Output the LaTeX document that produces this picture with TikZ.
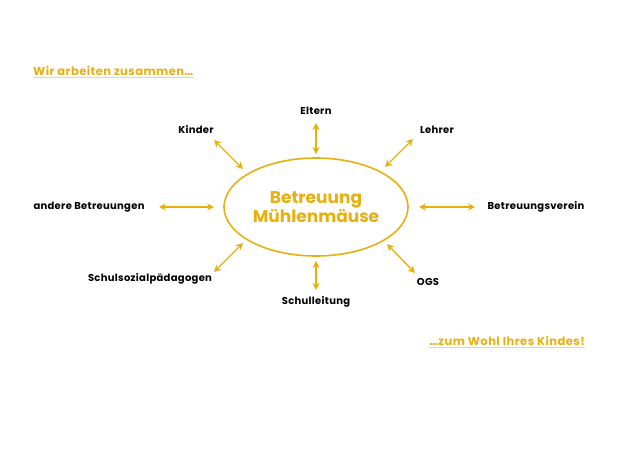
\documentclass[tikz,border=0pt]{standalone}
\usepackage{fontspec}
\setmainfont{Poppins}
\newfontfamily\spaced[LetterSpace=4]{Poppins}
\usetikzlibrary{arrows.meta}
\definecolor{gold}{HTML}{E8B00F}
\definecolor{goldlight}{HTML}{F3D583}
\tikzset{
  lbl/.style={font=\bfseries\fontsize{10}{12}\selectfont\addfontfeatures{LetterSpace=3}, text=black, inner sep=0pt},
  head/.style={font=\spaced\bfseries\fontsize{11.5}{13}\selectfont, text=gold, inner sep=0pt},
  conn/.style={draw=gold, line width=1.4pt, {Stealth[length=7pt,width=7pt]}-{Stealth[length=7pt,width=7pt]}}
}
\begin{document}
\begin{tikzpicture}[x=1pt,y=-1pt]
\useasboundingbox (0,0) rectangle (634,449);
% center
\draw[gold, line width=1.6pt] (316,207) ellipse [x radius=92, y radius=49];
\node[font=\bfseries\fontsize{17}{19}\selectfont, text=gold, align=center, inner sep=0pt] (c) at (316,207) {Betreuung\\Mühlenmäuse};
% headers
\node[head, anchor=west] (h1) at (33,71) {Wir arbeiten zusammen\dots};
\draw[goldlight, line width=1pt] ([yshift=-1.5pt]h1.south west) -- ([yshift=-1.5pt]h1.south east);
\node[head, anchor=east] (h2) at (585,341) {\dots zum Wohl Ihres Kindes!};
\draw[goldlight, line width=1pt] ([yshift=-1.5pt]h2.south west) -- ([yshift=-1.5pt]h2.south east);
% labels
\node[lbl] (eltern) at (316,111) {Eltern};
\node[lbl] (kinder) at (196,130) {Kinder};
\node[lbl] (lehrer) at (437,130) {Lehrer};
\node[lbl] (andere) at (89,207) {andere Betreuungen};
\node[lbl] (verein) at (536,207) {Betreuungsverein};
\node[lbl] (ssp) at (150,279) {Schulsozialpädagogen};
\node[lbl] (ogs) at (428,282) {OGS};
\node[lbl] (sl) at (316,302) {Schulleitung};
% arrow endpoints
\coordinate (e1) at (316,123); \coordinate (e2) at (316,154);
\coordinate (k1) at (214,140); \coordinate (k2) at (243,169);
\coordinate (l1) at (413,139); \coordinate (l2) at (385,167);
\coordinate (a1) at (159,207); \coordinate (a2) at (214,207);
\coordinate (v1) at (419,207); \coordinate (v2) at (475,207);
\coordinate (s1) at (214,272); \coordinate (s2) at (243,243);
\coordinate (o1) at (387,244); \coordinate (o2) at (415,273);
\coordinate (u1) at (316,261); \coordinate (u2) at (316,290);
\draw[conn] (e1) -- (e2);
\draw[conn] (k1) -- (k2);
\draw[conn] (l1) -- (l2);
\draw[conn] (a1) -- (a2);
\draw[conn] (v1) -- (v2);
\draw[conn] (s1) -- (s2);
\draw[conn] (o1) -- (o2);
\draw[conn] (u1) -- (u2);
\end{tikzpicture}
\end{document}
